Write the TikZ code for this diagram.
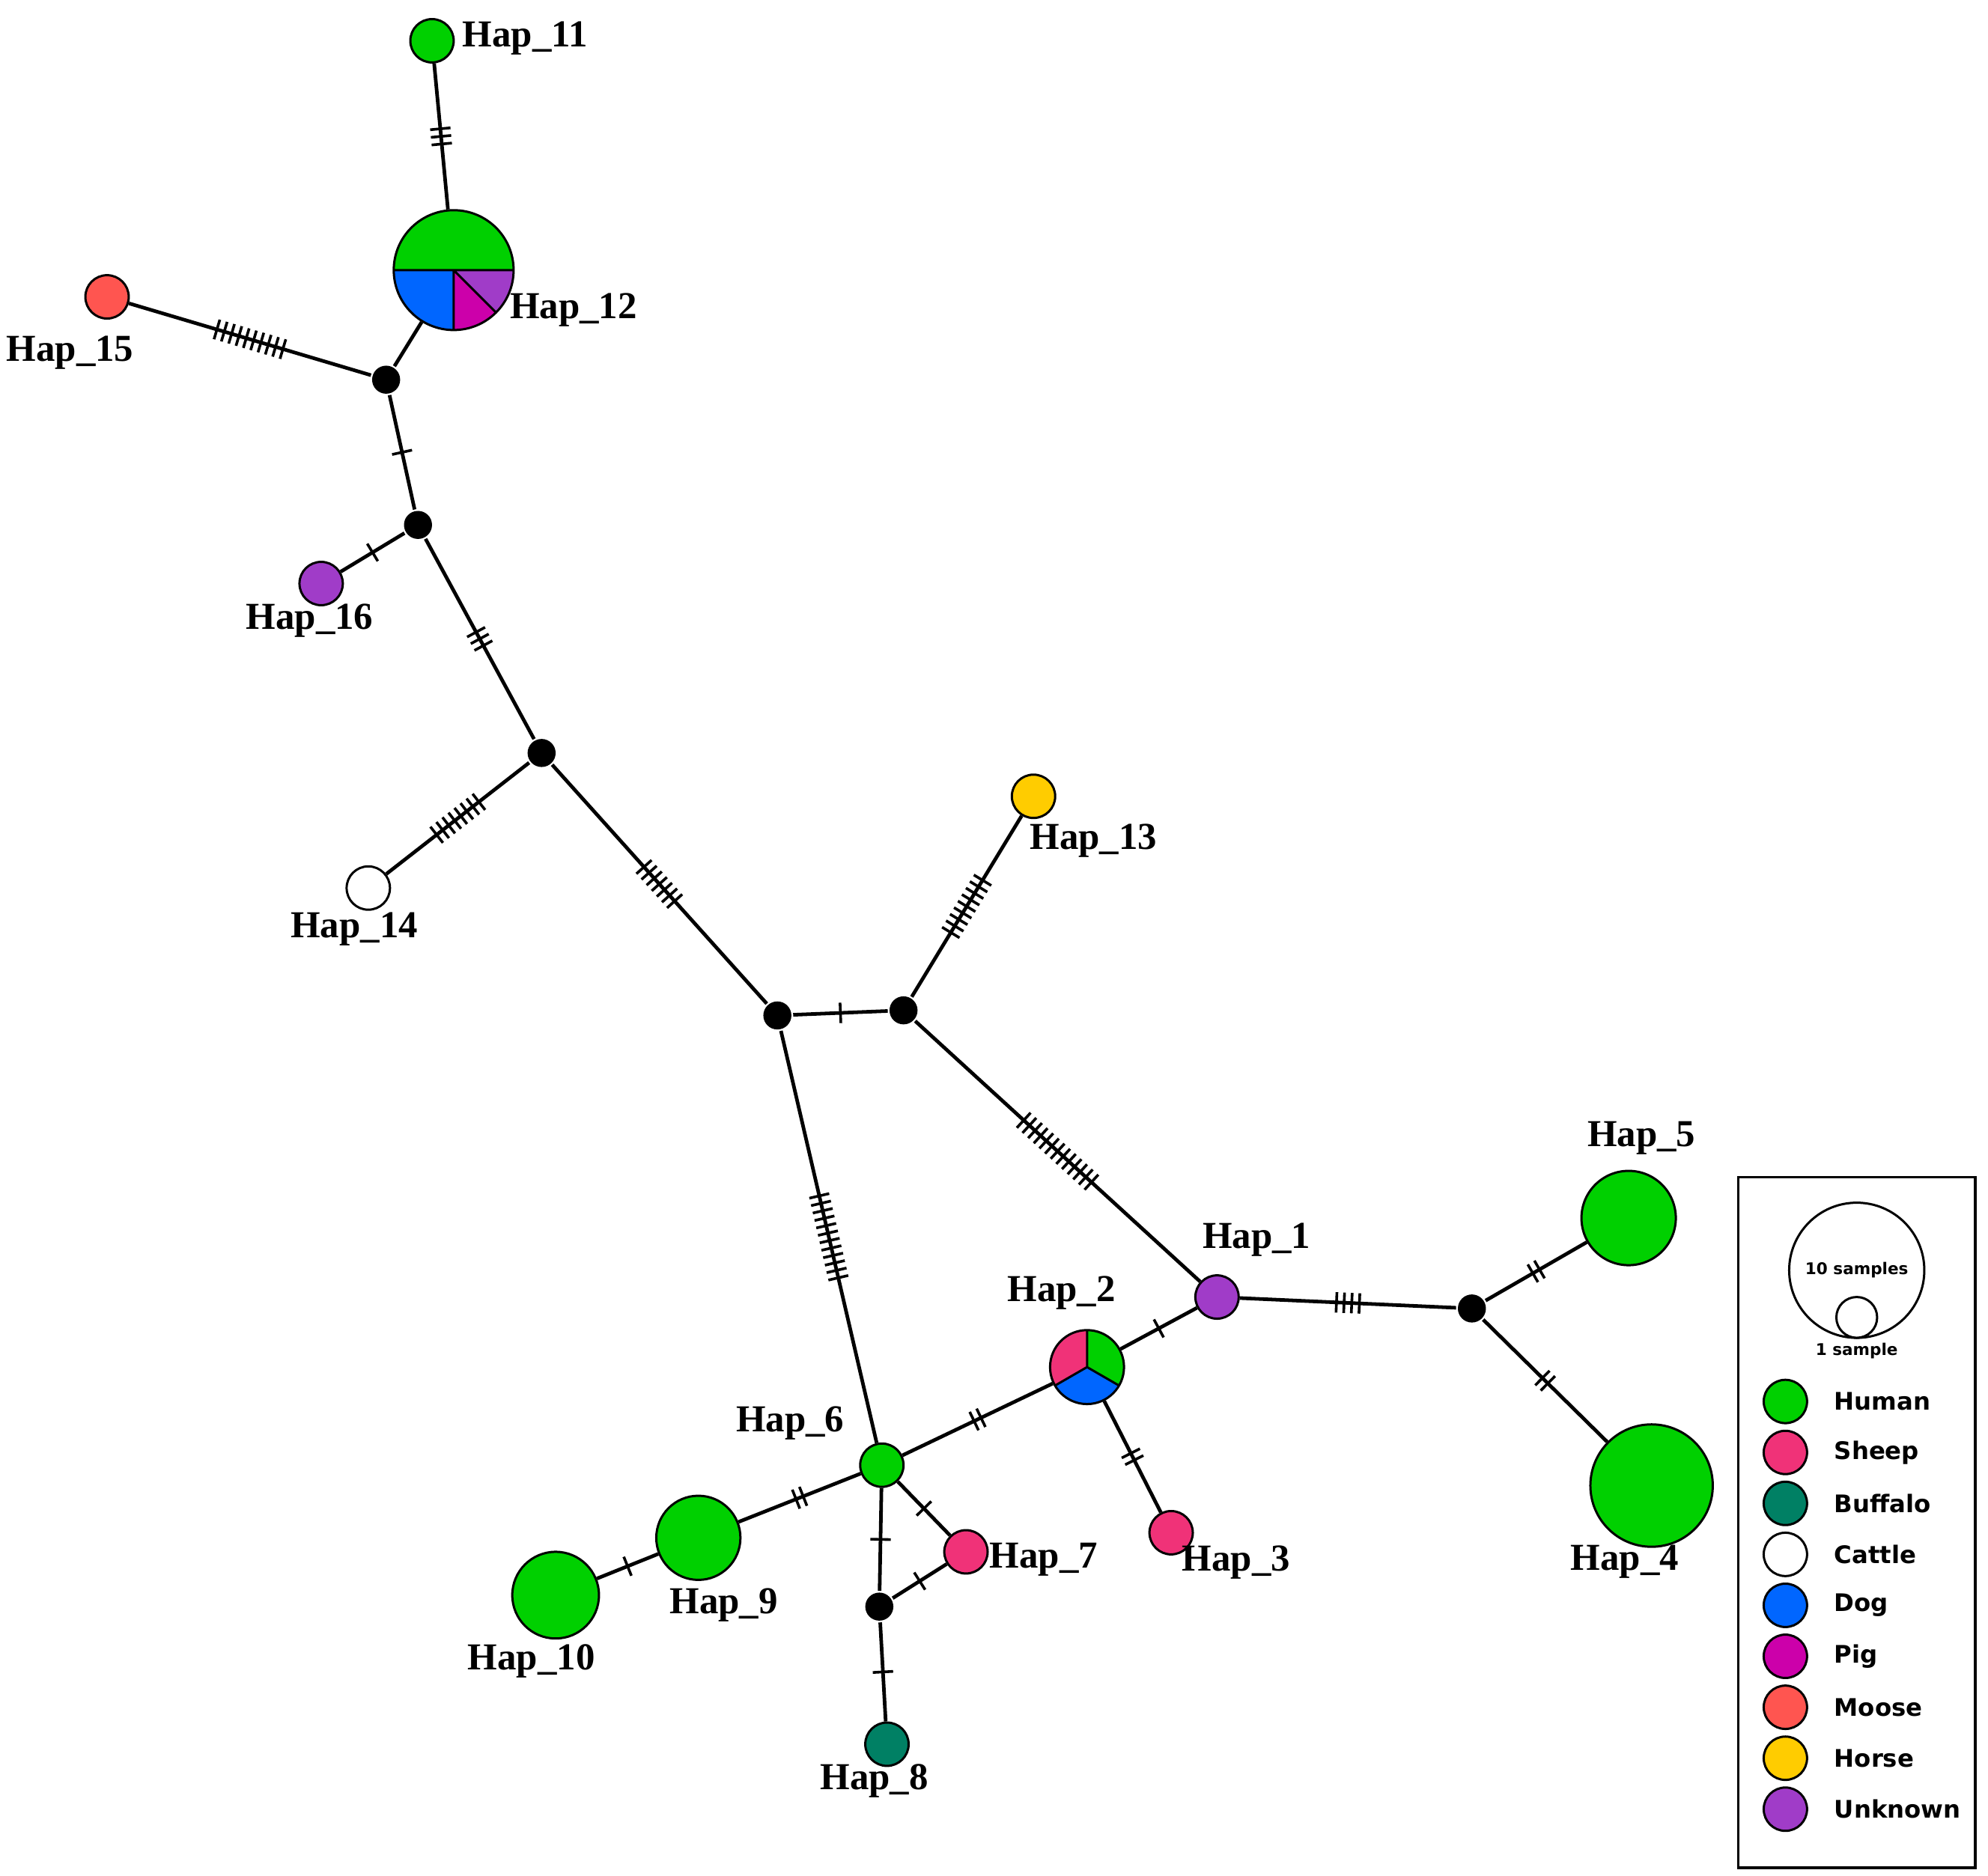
\documentclass[tikz,border=0pt]{standalone}
\usepackage{fontspec}
\setmainfont{Liberation Serif}
\newfontfamily\keyfont{DejaVu Sans}
\usetikzlibrary{decorations.markings}
\definecolor{human}{RGB}{0,208,0}
\definecolor{sheep}{RGB}{240,50,120}
\definecolor{buffalo}{RGB}{0,128,100}
\definecolor{dog}{RGB}{0,102,255}
\definecolor{pig}{RGB}{204,0,170}
\definecolor{moose}{RGB}{255,85,80}
\definecolor{horse}{RGB}{255,204,0}
\definecolor{unknown}{RGB}{160,60,200}

\begin{document}
\begin{tikzpicture}
	[x=0.01cm,y=0.01cm,line width=0.8pt,
	 hap/.style={circle,draw=black,line width=0.5pt,inner sep=0pt,minimum size=0.34cm},
	 med/.style={circle,fill=black,inner sep=0pt,minimum size=0.22cm},
	 lbl/.style={font=\fontsize{8.5}{9}\selectfont\bfseries,inner sep=0pt},
	 key/.style={font=\keyfont\fontsize{5.4}{6}\selectfont\bfseries,anchor=west,inner sep=0pt},
	 mut/.style={postaction={decorate,decoration={markings,mark=at position 0.5 with
	   {\pgfmathsetmacro\off{(#1-1)*3}
	    \foreach \k in {1,...,#1}{\draw[line width=0.6pt] ({(\k-1)*6-\off},-8) -- ++(0,16);}}}}}]

	\useasboundingbox (0,0) rectangle (1560,-1472);

	% pie charts
	\fill[human] (356,-212) -- ++(0:0.47cm) arc (0:180:0.47cm) -- cycle;
	\fill[dog] (356,-212) -- ++(180:0.47cm) arc (180:270:0.47cm) -- cycle;
	\fill[pig] (356,-212) -- ++(270:0.47cm) arc (270:315:0.47cm) -- cycle;
	\fill[unknown] (356,-212) -- ++(315:0.47cm) arc (315:360:0.47cm) -- cycle;
	\draw[line width=0.5pt] (309,-212) -- (403,-212) (356,-212) -- (356,-259) (356,-212) -- ++(315:0.47cm);
	\fill[human] (853,-1073) -- ++(90:0.29cm) arc (90:-30:0.29cm) -- cycle;
	\fill[dog] (853,-1073) -- ++(-30:0.29cm) arc (-30:-150:0.29cm) -- cycle;
	\fill[sheep] (853,-1073) -- ++(210:0.29cm) arc (210:90:0.29cm) -- cycle;
	\draw[line width=0.5pt] (853,-1073) -- ++(90:0.29cm) (853,-1073) -- ++(-30:0.29cm) (853,-1073) -- ++(210:0.29cm);

	% haplotypes
	\node (h1) [hap,fill=unknown] at (955,-1018) {};
	\node (h2) [hap,minimum size=0.58cm] at (853,-1073) {};
	\node (h3) [hap,fill=sheep] at (919,-1203) {};
	\node (h4) [hap,fill=human,minimum size=0.96cm] at (1296,-1166) {};
	\node (h5) [hap,fill=human,minimum size=0.74cm] at (1278,-956) {};
	\node (h6) [hap,fill=human] at (692,-1150) {};
	\node (h7) [hap,fill=sheep] at (758,-1218) {};
	\node (h8) [hap,fill=buffalo] at (696,-1369) {};
	\node (h9) [hap,fill=human,minimum size=0.66cm] at (548,-1207) {};
	\node (h10) [hap,fill=human,minimum size=0.68cm] at (436,-1252) {};
	\node (h11) [hap,fill=human] at (339,-32) {};
	\node (h12) [hap,minimum size=0.94cm] at (356,-212) {};
	\node (h13) [hap,fill=horse] at (811,-625) {};
	\node (h14) [hap,fill=white] at (289,-697) {};
	\node (h15) [hap,fill=moose] at (84,-233) {};
	\node (h16) [hap,fill=unknown] at (252,-458) {};

	% median vectors
	\node (m1) [med] at (303,-298) {};
	\node (m2) [med] at (328,-412) {};
	\node (m3) [med] at (425,-591) {};
	\node (m4) [med] at (610,-797) {};
	\node (m5) [med] at (709,-793) {};
	\node (m6) [med] at (1155,-1027) {};
	\node (m7) [med] at (690,-1261) {};

	\draw (h12) -- (m1);
	\foreach \from/\to/\n in {h11/h12/3,h15/m1/10,m1/m2/1,m2/h16/1,m2/m3/3,m3/h14/8,m3/m4/7,
	    m4/m5/1,m5/h13/9,m5/h1/13,m4/h6/12,h1/m6/4,m6/h5/2,m6/h4/2,h1/h2/1,h2/h6/2,h2/h3/2,
	    h6/h9/2,h9/h10/1,h6/h7/1,h6/m7/1,m7/h7/1,m7/h8/1}
	  \draw[mut=\n] (\from) -- (\to);

	% labels
	\node (l1) [lbl] at (986,-973) {Hap\_1};
	\node (l2) [lbl] at (833,-1015) {Hap\_2};
	\node (l3) [lbl] at (970,-1226) {Hap\_3};
	\node (l4) [lbl] at (1275,-1226) {Hap\_4};
	\node (l5) [lbl] at (1288,-893) {Hap\_5};
	\node (l6) [lbl] at (620,-1117) {Hap\_6};
	\node (l7) [lbl] at (819,-1224) {Hap\_7};
	\node (l8) [lbl] at (686,-1398) {Hap\_8};
	\node (l9) [lbl] at (568,-1260) {Hap\_9};
	\node (l10) [lbl] at (417,-1304) {Hap\_10};
	\node (l11) [lbl] at (412,-30) {Hap\_11};
	\node (l12) [lbl] at (450,-243) {Hap\_12};
	\node (l13) [lbl] at (858,-660) {Hap\_13};
	\node (l14) [lbl] at (278,-729) {Hap\_14};
	\node (l15) [lbl] at (55,-277) {Hap\_15};
	\node (l16) [lbl] at (243,-487) {Hap\_16};

	% legend
	\draw[line width=0.6pt] (1364,-924) rectangle (1550,-1466);
	\node (big) [hap,fill=white,minimum size=1.06cm] at (1457,-997) {};
	\node (small) [hap,fill=white,minimum size=0.32cm] at (1457,-1034) {};
	\node [font=\keyfont\fontsize{3.6}{4}\selectfont\bfseries] at (1457,-997) {10 samples};
	\node [font=\keyfont\fontsize{3.6}{4}\selectfont\bfseries] at (1457,-1060) {1 sample};
	\foreach \c/\t [count=\i] in {human/Human,sheep/Sheep,buffalo/Buffalo,white/Cattle,dog/Dog,
	    pig/Pig,moose/Moose,horse/Horse,unknown/Unknown}
	  {\node (k\i) [hap,fill=\c] at (1401,{-1060-40*\i}) {};
	   \node [key] at (1438,{-1060-40*\i}) {\t};}
\end{tikzpicture}
\end{document}
